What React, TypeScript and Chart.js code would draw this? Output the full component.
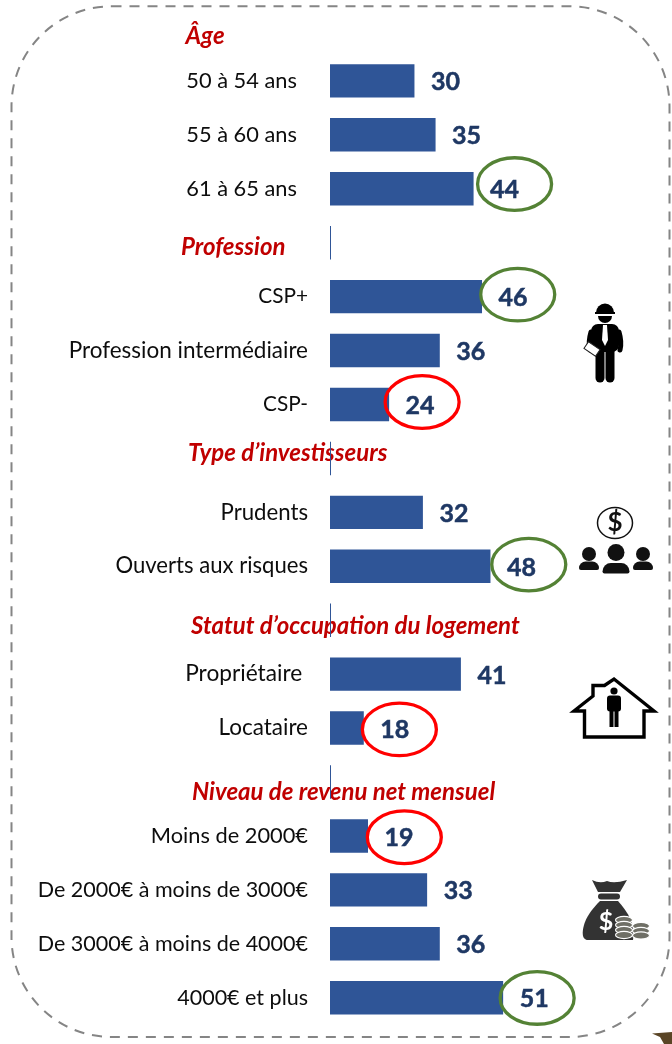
import React, { useEffect, useRef } from "react";
import { Chart, registerables } from "chart.js";

Chart.register(...registerables);

const categories = [
  "Âge", "50 à 54 ans", "55 à 60 ans", "61 à 65 ans",
  "Profession", "CSP+", "Profession intermédiaire", "CSP-",
  "Type d’investisseurs", "Prudents", "Ouverts aux risques",
  "Statut d’occupation du logement", "Propriétaire", "Locataire",
  "Niveau de revenu net mensuel", "Moins de 2000€", "De 2000€ à moins de 3000€", "De 3000€ à moins de 4000€", "4000€ et plus",
];
const AXIS_MIN = 10;
const AXIS_MAX = 80;
// Section rows hold the axis minimum: they show only a thin tick of the base line. The first one shows nothing.
const values: (number | null)[] = [
  null, 30, 35, 44,
  AXIS_MIN, 46, 36, 24,
  AXIS_MIN, 32, 48,
  AXIS_MIN, 41, 18,
  AXIS_MIN, 19, 33, 36, 51,
];
const sectionRows = [0, 4, 8, 11, 14];
const goodRows = [3, 5, 10, 18];
const badRows = [7, 13, 15];

// Layout only, in pixels
const CHART_LEFT = 330;
const CHART_RIGHT = 625.6;
const CHART_BOTTOM = 1024.7;
const SECTION_POS: Record<number, [number, number]> = {
  0: [185.5, 36], 4: [181, 247], 8: [188, 453], 11: [191, 626], 14: [192, 792],
};
const TICK_PAD: Record<number, string> = { 1: "  ", 2: "  ", 3: "  ", 12: " " };
const TICK_SIZE: Record<number, number> = { 1: 21.8, 2: 21.8, 3: 21.8, 5: 20.8, 6: 22.5, 7: 20.8, 9: 22.2, 10: 22.1, 12: 22.7, 13: 22.5, 15: 21.8 };
const RING_OFFSET: Record<number, [number, number]> = {
  3: [41, -4.7], 5: [35.7, -2], 7: [33, -2.5], 10: [38.3, -1.7], 13: [35.6, 1.3], 15: [36.3, 1.3], 18: [34, 0.2],
};

function roundRect(c: CanvasRenderingContext2D, x: number, y: number, w: number, h: number, r: number) {
  c.beginPath();
  c.roundRect(x, y, w, h, r);
}

function drawFrame(c: CanvasRenderingContext2D) {
  c.save();
  c.strokeStyle = "#858585";
  c.lineWidth = 2;
  c.setLineDash([10, 8]);
  roundRect(c, 11.5, 6.3, 658, 1030.7, 100);
  c.stroke();
  c.restore();
}

function drawWorker(c: CanvasRenderingContext2D) {
  c.save();
  c.fillStyle = "#000";
  c.strokeStyle = "#000";
  c.lineCap = "round";
  c.beginPath(); c.arc(605, 312.5, 9, Math.PI, 0); c.fill();
  c.fillRect(595, 312, 20, 2);
  c.beginPath(); c.arc(605, 316, 7, 0, Math.PI); c.fill();
  roundRect(c, 591, 324, 28, 28, 7); c.fill();
  c.lineWidth = 5;
  c.beginPath(); c.moveTo(591, 332); c.quadraticCurveTo(588, 342, 590, 350); c.stroke();
  c.beginPath(); c.moveTo(619, 332); c.quadraticCurveTo(622, 342, 620, 350); c.stroke();
  c.lineWidth = 9;
  c.beginPath(); c.moveTo(600, 350); c.lineTo(600, 378); c.stroke();
  c.beginPath(); c.moveTo(610, 350); c.lineTo(610, 378); c.stroke();
  c.fillStyle = "#fff";
  c.beginPath();
  c.moveTo(603, 325); c.lineTo(607, 325); c.lineTo(608, 340); c.lineTo(605, 346); c.lineTo(602, 340);
  c.closePath(); c.fill();
  c.translate(592, 349);
  c.rotate(0.6);
  c.fillRect(-7, -4, 14, 8);
  c.lineWidth = 1;
  c.strokeStyle = "#222";
  c.strokeRect(-7, -4, 14, 8);
  c.restore();
}

function drawPerson(c: CanvasRenderingContext2D, x: number, headY: number, headR: number, bodyW: number, bodyTop: number, bodyH: number) {
  c.beginPath(); c.arc(x, headY, headR, 0, Math.PI * 2); c.fill();
  c.beginPath();
  c.roundRect(x - bodyW / 2, bodyTop, bodyW, bodyH, [bodyH * 0.8, bodyH * 0.8, 2, 2]);
  c.fill();
}

function drawInvestors(c: CanvasRenderingContext2D) {
  c.save();
  c.strokeStyle = "#111";
  c.fillStyle = "#111";
  c.lineWidth = 1.5;
  c.beginPath(); c.ellipse(615, 523, 17.5, 15.5, 0, 0, Math.PI * 2); c.stroke();
  c.font = "bold 26px Lato";
  c.textAlign = "center";
  c.textBaseline = "middle";
  c.fillText("$", 615, 523);
  drawPerson(c, 589, 554, 7, 20, 561.5, 8.5);
  drawPerson(c, 616, 552.5, 8.5, 27, 563, 10.5);
  drawPerson(c, 643, 554, 7, 20, 561.5, 8.5);
  c.restore();
}

function drawHouse(c: CanvasRenderingContext2D) {
  c.save();
  c.strokeStyle = "#000";
  c.fillStyle = "#000";
  c.lineWidth = 3.4;
  c.lineJoin = "miter";
  c.beginPath();
  c.moveTo(584.5, 711); c.lineTo(574, 711); c.lineTo(593, 696); c.lineTo(593, 685.5); c.lineTo(604.5, 685.5); c.lineTo(614, 679);
  c.lineTo(654, 711); c.lineTo(644, 711); c.lineTo(644, 737); c.lineTo(584.5, 737);
  c.closePath();
  c.stroke();
  c.beginPath(); c.arc(614, 691, 3.6, 0, Math.PI * 2); c.fill();
  roundRect(c, 607, 695.5, 14, 16, 3); c.fill();
  c.fillRect(609.5, 708, 4, 19);
  c.fillRect(614.5, 708, 4, 19);
  c.restore();
}

function drawMoneyBag(c: CanvasRenderingContext2D) {
  c.save();
  c.fillStyle = "#333";
  c.beginPath();
  c.moveTo(592, 880); c.quadraticCurveTo(600, 884, 607, 881); c.quadraticCurveTo(614, 884, 627, 880);
  c.lineTo(620, 892); c.lineTo(598, 892);
  c.closePath(); c.fill();
  roundRect(c, 598, 893.5, 22, 6, 3); c.fill();
  c.beginPath();
  c.moveTo(600, 901); c.lineTo(618, 901);
  c.bezierCurveTo(628, 912, 636, 925, 633, 940);
  c.lineTo(588, 940);
  c.bezierCurveTo(581, 940, 582, 930, 585, 922);
  c.bezierCurveTo(588, 914, 594, 907, 600, 901);
  c.closePath(); c.fill();
  c.fillStyle = "#fff";
  c.font = "bold 25px Lato";
  c.textAlign = "center";
  c.textBaseline = "middle";
  c.fillText("$", 606, 922);
  const layers: [number, number][] = [[624, 920], [624, 925], [624, 930], [624, 935], [641, 926], [641, 931], [641, 935.5]];
  for (const [x, y] of layers) {
    c.beginPath();
    c.ellipse(x, y, 8.5, 3.6, 0, 0, Math.PI * 2);
    c.fillStyle = "#6f6f66";
    c.fill();
    c.lineWidth = 1.1;
    c.strokeStyle = "#fff";
    c.stroke();
  }
  c.restore();
}

function drawCorner(c: CanvasRenderingContext2D) {
  c.save();
  c.fillStyle = "#5a4526";
  c.beginPath();
  c.moveTo(652, 1033.5); c.lineTo(672, 1032); c.lineTo(672, 1044); c.lineTo(664, 1044); c.lineTo(660, 1037);
  c.closePath(); c.fill();
  c.restore();
}

const decorations = {
  id: "decorations",
  beforeDraw(chart: Chart) {
    const c = chart.ctx;
    c.save();
    c.fillStyle = "#fff";
    c.fillRect(0, 0, chart.width, chart.height);
    c.restore();
    drawFrame(c);
    drawWorker(c);
    drawInvestors(c);
    drawHouse(c);
    drawMoneyBag(c);
    drawCorner(c);
  },
  beforeDatasetsDraw(chart: Chart) {
    const c = chart.ctx;
    c.save();
    c.fillStyle = "#C00000";
    c.font = "italic bold 24px Lato";
    c.textAlign = "left";
    c.textBaseline = "middle";
    for (const i of sectionRows) {
      const [x, y] = SECTION_POS[i];
      c.fillText(categories[i], x, y);
    }
    c.restore();
  },
  afterDatasetsDraw(chart: Chart) {
    const c = chart.ctx;
    const bars = chart.getDatasetMeta(0).data;
    c.save();
    c.font = "bold 25px Lato";
    c.fillStyle = "#1F3864";
    c.strokeStyle = "#1F3864";
    c.lineWidth = 0.5;
    c.textAlign = "left";
    c.textBaseline = "middle";
    values.forEach((v, i) => {
      if (v === null || sectionRows.includes(i)) return;
      c.fillText(String(v), bars[i].x + 16.5, bars[i].y + 1.5);
      c.strokeText(String(v), bars[i].x + 16.5, bars[i].y + 1.5);
    });
    c.lineWidth = 3.3;
    for (const i of [...goodRows, ...badRows]) {
      const [dx, dy] = RING_OFFSET[i];
      c.strokeStyle = goodRows.includes(i) ? "#548235" : "#FF0000";
      c.beginPath();
      c.ellipse(bars[i].x + dx, bars[i].y + dy, 37, 26.3, 0, 0, Math.PI * 2);
      c.stroke();
    }
    c.restore();
  },
};

export default function App() {
  const ref = useRef<HTMLCanvasElement>(null);
  useEffect(() => {
    if (!ref.current) return;
    const chart = new Chart(ref.current, {
      type: "bar",
      data: {
        labels: categories,
        datasets: [{
          data: values,
          base: AXIS_MIN,
          backgroundColor: "#2F5597",
          borderWidth: 0,
          barPercentage: 0.62,
          categoryPercentage: 1,
          minBarLength: 1,
          clip: false,
        }],
      },
      options: {
        indexAxis: "y",
        animation: false,
        responsive: false,
        layout: { autoPadding: false, padding: { left: 0, top: 0, right: 672 - CHART_RIGHT, bottom: 1044 - CHART_BOTTOM } },
        plugins: { legend: { display: false }, tooltip: { enabled: false } },
        scales: {
          x: { display: false, min: AXIS_MIN, max: AXIS_MAX },
          y: {
            afterFit: (s: any) => { s.width = CHART_LEFT; s.paddingTop = 0; s.paddingBottom = 0; },
            border: { display: false },
            grid: { display: false, drawTicks: false },
            ticks: {
              autoSkip: false,
              padding: 22,
              color: "#0D0D0D",
              font: (ctx: any) => ({ family: "Lato", size: TICK_SIZE[ctx.index] ?? 21.5 }),
              callback: (_v: any, i: number) => sectionRows.includes(i) ? "" : categories[i] + (TICK_PAD[i] ?? ""),
            },
          },
        },
      },
      plugins: [decorations],
    });
    return () => chart.destroy();
  }, []);
  return <canvas ref={ref} width={672} height={1044} style={{ position: "absolute", left: 0, top: 0, display: "block" }} />;
}
